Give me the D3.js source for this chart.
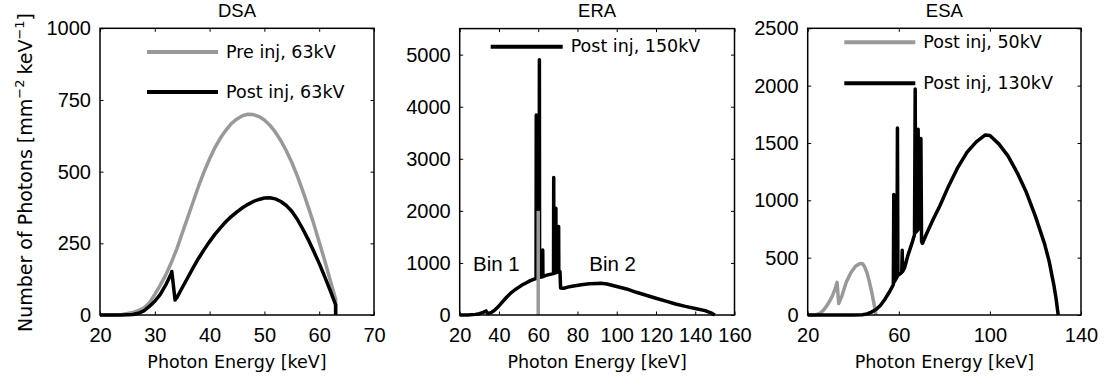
<!DOCTYPE html>
<html>
<head>
<meta charset="utf-8">
<script src="https://cdn.jsdelivr.net/npm/d3@7"></script>
<style>
  body { margin: 0; background: #fff; }
  .tick text { font-family: "Liberation Sans", Arial, sans-serif; font-size: 20px; fill: #000; }
  .tick line { stroke: #000; stroke-width: 1; }
  .title { font-family: "Liberation Sans", Arial, sans-serif; font-size: 18.5px; }
  .lbl { font-family: "DejaVu Sans", sans-serif; font-size: 17.5px; }
  .ylbl { font-family: "DejaVu Sans", sans-serif; font-size: 19px; }
  .bin { font-family: "Liberation Sans", Arial, sans-serif; font-size: 20.5px; }
</style>
</head>
<body>
<svg id="chart" width="1107" height="383"></svg>
<script>
// ---- DSA: 63 kV spectra before and after iodine injection ----
const dsaPreEnergy = [20,21,22,23,24,25,26,27,28,29,30,31,32,33,34,35,36,37,38,39,40,41,42,43,44,45,46,47,48,49,50,51,52,53,54,55,56,57,58,59,60,61,62,63,63];
const dsaPre       = [0,0,0,1,2,5,9,15,24,42,72,104,140,182,230,285,340,395,450,500,545,585,618,645,668,684,695,700,699,692,680,662,638,608,573,532,485,433,377,318,255,190,122,55,0];
const dsaPostEnergy = [20,21,22,23,24,25,26,27,28,29,30,31,32,33,33.1,33.7,34,35,36,37,38,39,40,41,42,43,44,45,46,47,48,49,50,51,52,53,54,55,56,57,58,59,60,61,62,63,63];
const dsaPost       = [0,0,0,0,0,1,2,6,14,30,48,72,105,145,152,52,60,95,130,165,198,228,256,282,305,326,344,360,374,386,396,403,408,409,405,396,382,362,334,300,263,222,180,134,86,35,0];

// ---- ERA: 150 kV spectrum after injection, split into two energy bins ----
const eraEnergy = [20,24,28,30,32,33.4,34.2,36,38,40,42,44,46,48,50,52,54,56,58,58.9,59.0,59.1,60.5,60.6,60.7,62.2,62.3,62.4,64,66,67.8,67.9,68.0,68.9,69.0,69.1,70.3,70.4,70.5,71.1,71.4,73,75,78,82,86,90,92,95,100,105,110,115,120,125,130,135,140,145,148,150];
const eraPost   = [0,2,12,25,50,78,30,45,100,175,260,345,420,480,530,580,620,660,690,700,3840,705,720,4900,725,735,1250,740,760,780,795,2640,800,810,2050,815,828,1700,832,835,520,512,535,558,580,598,606,608,595,548,500,436,380,322,266,212,165,125,84,40,0];
const eraBinEnergy = [60,60];
const eraBinHeight = [0,2000];

// ---- ESA: 50 kV and 130 kV spectra after injection ----
const esaLowEnergy = [20,22,23,24,25,26,27,28,29,30,31,32,32.9,33.6,35,37,39,41,43,44,45,46,47,48,49,50];
const esaLow       = [0,0,2,5,12,25,44,68,100,135,175,225,285,100,165,290,370,425,450,448,420,370,295,210,110,0];
const esaHighEnergy = [20,40,44,46,48,50,52,54,56,57.6,57.8,58.0,59.2,59.4,59.6,61.3,61.5,61.7,62.5,64,66,66.9,67.2,67.4,68.3,68.5,68.7,69.5,69.7,70.0,70.4,72,75,78,82,86,90,94,98,100,104,108,112,116,120,124,126,128,129,130];
const esaHigh       = [0,0,3,10,25,48,85,140,205,265,1050,290,330,1630,345,370,565,380,410,520,640,700,1970,720,740,1620,750,770,1540,640,625,700,830,950,1130,1290,1420,1510,1570,1565,1490,1385,1240,1070,860,620,470,270,150,0];

// ---- axis ticks ----
const dsaXTicks = [20,30,40,50,60,70];
const dsaYTicks = [0,250,500,750,1000];
const eraXTicks = [20,40,60,80,100,120,140,160];
const eraYTicks = [0,1000,2000,3000,4000,5000];
const esaXTicks = [20,60,100,140];
const esaYTicks = [0,500,1000,1500,2000,2500];

const GRAY = "#999999";
const svg = d3.select("#chart");

function panel(cfg) {
  const x = d3.scaleLinear().domain(cfg.xDomain).range([cfg.left, cfg.right]);
  const y = d3.scaleLinear().domain(cfg.yDomain).range([cfg.bottom, cfg.top]);
  const g = svg.append("g");
  const T = 3.5;

  g.append("g").attr("transform", `translate(0,${cfg.bottom})`)
    .call(d3.axisBottom(x).tickValues(cfg.xTicks).tickSizeInner(-T).tickSizeOuter(0).tickPadding(13).tickFormat(d3.format("d")))
    .call(a => a.select(".domain").remove());
  g.append("g").attr("transform", `translate(${cfg.left},0)`)
    .call(d3.axisLeft(y).tickValues(cfg.yTicks).tickSizeInner(-T).tickSizeOuter(0).tickPadding(9).tickFormat(d3.format("d")))
    .call(a => a.select(".domain").remove());
  g.append("g").attr("transform", `translate(0,${cfg.top})`)
    .call(d3.axisTop(x).tickValues(cfg.xTicks).tickSizeInner(-T).tickSizeOuter(0).tickFormat(""))
    .call(a => a.select(".domain").remove());
  g.append("g").attr("transform", `translate(${cfg.right},0)`)
    .call(d3.axisRight(y).tickValues(cfg.yTicks).tickSizeInner(-T).tickSizeOuter(0).tickFormat(""))
    .call(a => a.select(".domain").remove());

  const line = d3.line().x(d => x(d[0])).y(d => y(d[1]));
  cfg.series.forEach(s => {
    g.append("path")
      .datum(d3.zip(s.energy, s.values))
      .attr("d", line)
      .attr("fill", "none")
      .attr("stroke", s.color)
      .attr("stroke-width", 3.5)
      .attr("stroke-linejoin", "round");
  });

  g.append("rect")
    .attr("x", cfg.left).attr("y", cfg.top)
    .attr("width", cfg.right - cfg.left).attr("height", cfg.bottom - cfg.top)
    .attr("fill", "none").attr("stroke", "#000").attr("stroke-width", 1.5);

  // legend
  cfg.legend.forEach(l => {
    g.append("line")
      .attr("x1", cfg.left + l.x0).attr("x2", cfg.left + l.x1)
      .attr("y1", cfg.top + l.y).attr("y2", cfg.top + l.y)
      .attr("stroke", l.color).attr("stroke-width", 4);
    g.append("text").attr("class", "lbl")
      .attr("x", cfg.left + l.x1 + 8).attr("y", cfg.top + l.y).attr("dy", "0.32em")
      .text(l.text);
  });

  const cx = (cfg.left + cfg.right) / 2;
  g.append("text").attr("class", "title")
    .attr("x", cx).attr("y", 17).attr("text-anchor", "middle").text(cfg.title);
  g.append("text").attr("class", "lbl")
    .attr("x", cx).attr("y", 368).attr("text-anchor", "middle").text("Photon Energy [keV]");

  return { x, y, g };
}

panel({
  title: "DSA", left: 100, right: 374, top: 28.3, bottom: 315,
  xDomain: [20, 70], yDomain: [0, 1000], xTicks: dsaXTicks, yTicks: dsaYTicks,
  series: [
    { energy: dsaPreEnergy, values: dsaPre, color: GRAY },
    { energy: dsaPostEnergy, values: dsaPost, color: "#000" }
  ],
  legend: [
    { x0: 47, x1: 118, y: 23.7, color: GRAY, text: "Pre inj, 63kV" },
    { x0: 47, x1: 118, y: 63.7, color: "#000", text: "Post inj, 63kV" }
  ]
});

const era = panel({
  title: "ERA", left: 459.7, right: 734.5, top: 28.6, bottom: 315,
  xDomain: [20, 160], yDomain: [0, 5500], xTicks: eraXTicks, yTicks: eraYTicks,
  series: [
    { energy: eraEnergy, values: eraPost, color: "#000" },
    { energy: eraBinEnergy, values: eraBinHeight, color: GRAY }
  ],
  legend: [
    { x0: 31, x1: 103, y: 18.1, color: "#000", text: "Post inj, 150kV" }
  ]
});
era.g.append("text").attr("class", "bin").attr("x", era.x(26.8)).attr("y", era.y(850)).text("Bin 1");
era.g.append("text").attr("class", "bin").attr("x", era.x(86)).attr("y", era.y(850)).text("Bin 2");

panel({
  title: "ESA", left: 807.7, right: 1081, top: 28.3, bottom: 315,
  xDomain: [20, 140], yDomain: [0, 2500], xTicks: esaXTicks, yTicks: esaYTicks,
  series: [
    { energy: esaLowEnergy, values: esaLow, color: GRAY },
    { energy: esaHighEnergy, values: esaHigh, color: "#000" }
  ],
  legend: [
    { x0: 36.6, x1: 107.6, y: 14, color: GRAY, text: "Post inj, 50kV" },
    { x0: 36.6, x1: 107.6, y: 55, color: "#000", text: "Post inj, 130kV" }
  ]
});

// shared y-axis label
const yl = svg.append("text").attr("class", "ylbl")
  .attr("transform", "translate(31.5,172.5) rotate(-90)")
  .attr("text-anchor", "middle");
yl.append("tspan").text("Number of Photons [mm");
yl.append("tspan").attr("dy", -8).attr("font-size", "13px").text("\u22122");
yl.append("tspan").attr("dy", 8).attr("dx", 5).text("keV");
yl.append("tspan").attr("dy", -8).attr("font-size", "13px").text("\u22121");
yl.append("tspan").attr("dy", 8).text("]");
</script>
</body>
</html>
